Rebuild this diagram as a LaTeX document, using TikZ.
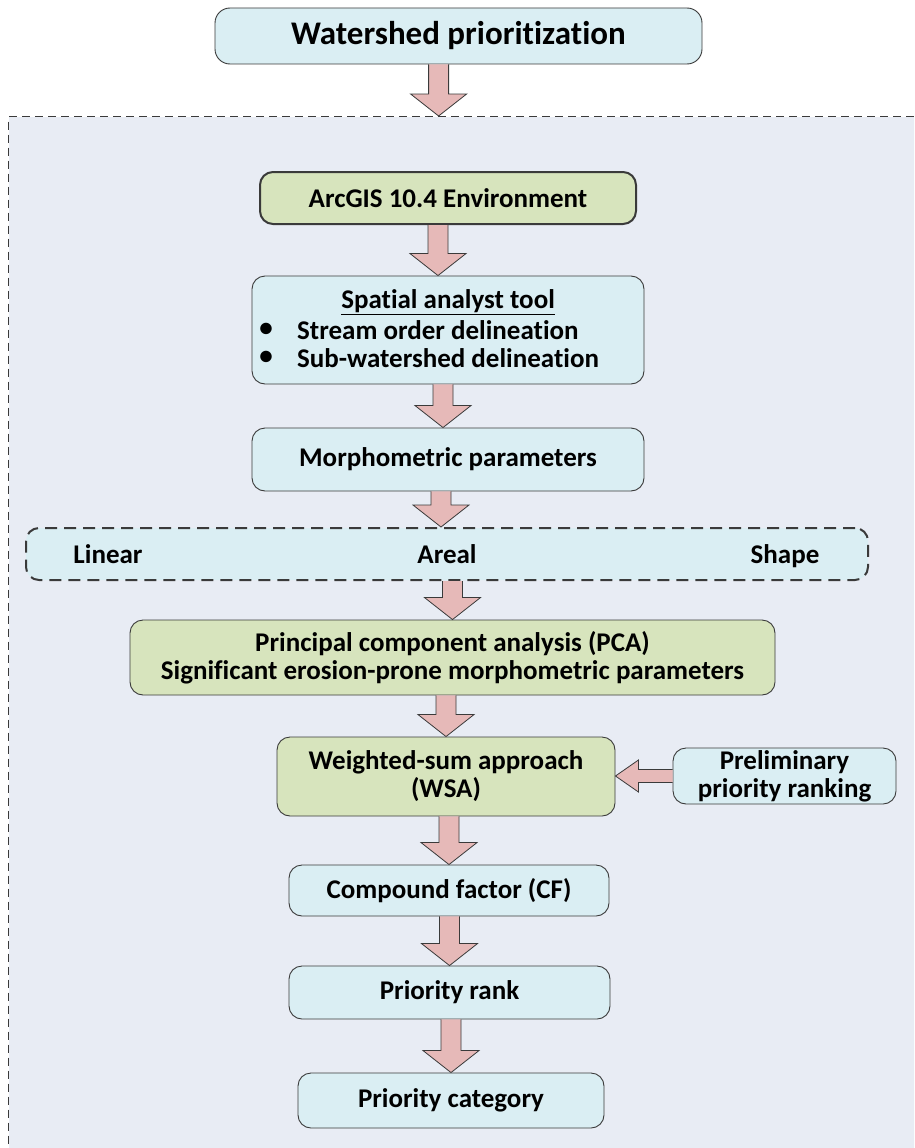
\documentclass[tikz,border=0pt]{standalone}
\usepackage{fontspec}
\setmainfont{Carlito}[Ligatures=NoCommon]
\usetikzlibrary{calc}
\definecolor{bluefill}{HTML}{DAEEF3}
\definecolor{greenfill}{HTML}{D7E4BD}
\definecolor{arrowfill}{HTML}{E6B9B8}
\definecolor{regionfill}{HTML}{E8ECF4}
\definecolor{linec}{HTML}{3A3A3A}
\tikzset{
  box/.style={draw=linec, line width=0.9pt, rounded corners=13pt, inner sep=0pt,
    font=\bfseries\fontsize{27}{28}\selectfont, align=center},
  bluebox/.style={box, fill=bluefill},
  greenbox/.style={box, fill=greenfill},
  txt/.style={inner sep=0pt, font=\bfseries\fontsize{27}{28}\selectfont},
  fatarrow/.style={draw=linec, line width=0.8pt, fill=arrowfill, line join=miter},
  region/.style={draw=linec, line width=1.2pt, dash pattern=on 8pt off 5pt, fill=regionfill, inner sep=0pt},
  rowbox/.style={draw=linec, line width=2pt, dash pattern=on 12pt off 7pt, rounded corners=13pt, fill=bluefill, inner sep=0pt}
}
% vertical block arrow: optional x offset of the tip from the target's centre
\newcommand\vfat[3][0]{%
  \filldraw[fatarrow] let \p1=(#2.south), \p2=($(#3.north)+(#1,0)$) in
    (\x2-10pt,\y1) -- (\x2-10pt,\y2+22pt) -- (\x2-28pt,\y2+22pt) -- (\x2,\y2)
    -- (\x2+28pt,\y2+22pt) -- (\x2+10pt,\y2+22pt) -- (\x2+10pt,\y1);}
\begin{document}
\begin{tikzpicture}[x=1pt,y=-1pt]
\useasboundingbox (0,0) rectangle (914,1148);
\clip (0,0) rectangle (914,1148);
\fill[white] (0,0) rectangle (914,1148);
% dashed region
\node[region, anchor=north west, minimum width=930pt, minimum height=1060pt] (region) at (8,116) {};
% nodes
\node[bluebox, minimum width=487pt, minimum height=56pt, rounded corners=15pt,
  font=\bfseries\fontsize{33}{36}\selectfont] (title) at (458.5,36) {Watershed prioritization};
\node[greenbox, line width=2pt, minimum width=376pt, minimum height=52pt] (arc) at (448,198) {ArcGIS 10.4 Environment};
\node[bluebox, minimum width=392pt, minimum height=108pt] (spatial) at (448,330) {};
\node[txt] (sptitle) at (448,302) {\underline{Spatial analyst tool}};
\node[txt] (b1) at (266,330) {\textbullet};
\node[txt, anchor=west] (l1) at (297,330) {Stream order delineation};
\node[txt] (b2) at (266,358) {\textbullet};
\node[txt, anchor=west] (l2) at (297,358) {Sub-watershed delineation};
\node[bluebox, minimum width=392pt, minimum height=63pt] (morph) at (448,459.5) {Morphometric parameters};
\node[rowbox, minimum width=842pt, minimum height=52pt] (row) at (447,554) {};
\node[txt, anchor=base] (linear) at (108,563) {Linear};
\node[txt, anchor=base] (areal) at (447,563) {Areal};
\node[txt, anchor=base] (shape) at (785,563) {Shape};
\node[greenbox, minimum width=645pt, minimum height=75pt] (pca) at (452.5,657.5)
  {Principal component analysis (PCA)\\Significant erosion-prone morphometric parameters};
\node[greenbox, minimum width=338pt, minimum height=79pt] (wsa) at (446,776.5) {Weighted-sum approach\\(WSA)};
\node[bluebox, minimum width=223pt, minimum height=56pt] (prelim) at (784.5,776) {Preliminary\\priority ranking};
\node[bluebox, minimum width=320pt, minimum height=51pt] (cf) at (449,890.5) {Compound factor (CF)};
\node[bluebox, minimum width=321pt, minimum height=53pt] (rank) at (449.5,992.5) {Priority rank};
\node[bluebox, minimum width=306pt, minimum height=55pt] (cat) at (451,1100.5) {Priority category};
% arrows
\vfat[-35]{title}{region}
\vfat[-10]{arc}{spatial}
\vfat[-5]{spatial}{morph}
\vfat[-6]{morph}{row}
\vfat{row}{pca}
\vfat{pca}{wsa}
\vfat{wsa}{cf}
\vfat{cf}{rank}
\vfat{rank}{cat}
\filldraw[fatarrow] let \p1=(prelim.west), \p2=(wsa.east) in
  (\x1,\y1+6.5pt) -- (\x2+23pt,\y1+6.5pt) -- (\x2+23pt,\y1+16pt) -- (\x2,\y1)
  -- (\x2+23pt,\y1-16pt) -- (\x2+23pt,\y1-6.5pt) -- (\x1,\y1-6.5pt);
\end{tikzpicture}
\end{document}
